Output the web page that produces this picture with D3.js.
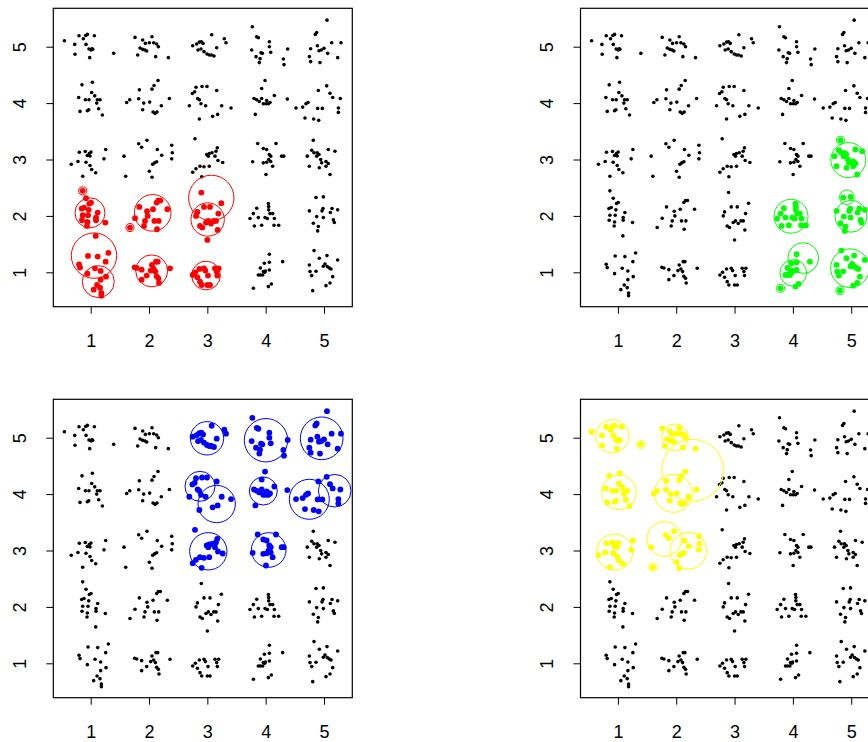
<!DOCTYPE html>
<html>
<head>
<meta charset="utf-8">
<script src="https://cdn.jsdelivr.net/npm/d3@7"></script>
<style>
  body { margin: 0; background: #fff; }
  svg { display: block; }
</style>
</head>
<body>
<script>
// Axis ticks shared by every panel
const ticks = [1, 2, 3, 4, 5];

// Jittered observations around each grid cell (column, row)
const c11 = [[0.800,1.142],[0.817,1.083],[0.954,1.290],[1.074,1.071],[1.120,1.278],[1.171,1.024],[1.257,1.189],[1.303,1.343],[0.943,0.976],[1.263,0.923],[1.171,0.870],[1.109,0.775],[1.051,0.692],[1.160,0.728],[1.183,0.633],[1.183,0.586],[1.086,1.645]];
const c12 = [[0.863,2.444],[0.920,2.314],[0.846,2.130],[0.886,2.148],[0.977,2.219],[1.006,2.237],[0.966,2.107],[0.863,2.012],[0.954,2.012],[1.120,2.059],[1.091,1.970],[1.091,1.923],[0.851,1.923],[0.943,1.893],[0.937,1.822],[1.251,1.882]];
const c13 = [[0.667,2.917],[0.782,2.965],[0.805,3.129],[0.907,3.142],[0.942,3.071],[0.976,3.106],[1.005,3.133],[0.988,3.062],[1.257,3.177],[1.228,3.012],[0.919,2.952],[0.988,2.894],[1.017,2.823],[1.086,2.764],[0.863,2.704]];
const c14 = [[0.851,4.324],[1.029,4.371],[0.794,4.100],[0.909,4.059],[0.971,4.059],[1.017,4.188],[1.069,4.129],[1.114,4.059],[1.160,4.059],[1.103,4.000],[0.817,3.853],[0.943,3.865],[0.966,3.882],[1.137,3.900],[1.200,3.788]];
const c15 = [[0.549,5.106],[0.726,5.041],[0.800,5.194],[0.874,5.141],[0.914,5.200],[0.943,5.218],[1.063,5.194],[0.920,5.041],[0.971,4.959],[1.006,4.941],[1.034,4.953],[1.023,4.965],[0.731,4.865],[0.983,4.806],[1.394,4.882]];
const c21 = [[1.754,1.089],[1.789,1.077],[1.874,1.047],[1.874,0.870],[1.960,0.941],[2.029,1.030],[2.051,1.130],[2.080,1.059],[2.109,1.012],[2.120,1.189],[2.149,1.189],[2.131,0.929],[2.160,0.893],[2.171,0.811],[2.360,1.071]];
const c22 = [[1.674,1.793],[1.760,1.959],[1.834,2.160],[1.966,2.083],[1.977,2.000],[1.931,1.911],[1.914,1.822],[2.069,2.118],[2.131,2.237],[2.160,2.272],[2.194,2.272],[2.091,1.911],[2.166,1.911],[2.137,1.763],[2.314,2.118]];
const c23 = [[1.571,3.059],[1.823,3.278],[1.874,3.218],[1.965,3.342],[2.142,3.177],[2.217,3.076],[2.131,2.959],[2.097,2.941],[2.063,2.917],[2.389,3.254],[2.399,3.119],[2.389,3.012],[1.600,2.704],[2.005,2.793],[2.051,2.686]];
const c24 = [[1.617,4.012],[1.669,4.059],[1.834,4.235],[1.823,4.076],[1.909,4.000],[2.011,4.018],[2.051,4.247],[2.086,4.312],[2.154,4.400],[1.891,3.882],[2.069,3.841],[2.103,3.818],[2.137,3.841],[2.211,3.953],[2.349,4.082]];
const c25 = [[1.760,5.165],[1.891,5.118],[1.937,5.059],[2.051,5.176],[2.006,5.071],[2.080,5.071],[2.131,5.047],[2.160,5.000],[1.846,4.976],[1.891,4.953],[1.931,4.941],[1.960,4.924],[1.806,4.853],[2.114,4.824],[2.331,4.806]];
const c31 = [[2.749,0.953],[2.794,1.000],[2.829,0.911],[2.863,1.059],[2.903,0.775],[2.874,0.834],[2.943,1.071],[2.966,1.030],[3.011,0.941],[3.000,0.775],[3.046,0.775],[3.131,1.071],[3.160,1.012],[3.194,1.071],[3.171,0.941]];
const c32 = [[2.897,2.414],[2.829,2.071],[2.806,2.000],[2.943,2.160],[3.046,2.160],[3.240,2.225],[3.189,2.041],[2.874,1.822],[2.914,1.793],[2.977,1.882],[3.017,1.911],[3.063,1.864],[3.109,1.911],[3.149,1.911],[3.177,1.751],[3.000,1.574]];
const c33 = [[2.788,3.367],[3.170,3.207],[3.148,3.147],[3.033,3.106],[3.080,3.119],[2.989,3.089],[3.016,3.059],[3.131,3.059],[3.263,2.947],[3.182,2.982],[2.749,2.775],[2.805,2.835],[2.874,2.881],[2.903,2.693],[2.942,2.871],[3.033,2.881]];
const c34 = [[2.691,3.953],[2.743,4.171],[2.783,4.200],[2.806,4.282],[2.834,4.082],[2.863,4.059],[2.891,3.988],[2.909,4.294],[2.994,4.294],[3.160,4.224],[2.971,3.953],[2.863,3.718],[3.091,3.765],[3.177,3.800],[3.246,3.953],[3.406,3.912]];
const c35 = [[2.749,5.018],[2.817,5.047],[2.863,5.082],[2.897,5.088],[2.926,5.059],[3.074,5.212],[2.840,4.941],[2.891,4.959],[2.943,4.912],[2.994,4.871],[3.034,4.853],[3.069,4.853],[3.114,4.835],[3.160,4.982],[3.291,5.141],[3.320,5.071]];
const c41 = [[4.063,1.320],[3.977,1.160],[3.909,1.077],[3.960,1.012],[3.994,1.024],[4.063,1.041],[4.063,1.178],[4.291,1.189],[3.874,0.953],[3.909,0.953],[3.949,0.953],[3.983,1.000],[4.046,0.746],[4.097,0.793],[3.789,0.716]];
const c42 = [[3.731,1.953],[3.789,2.041],[3.806,1.822],[3.846,2.136],[3.874,1.970],[3.931,1.834],[3.989,1.970],[4.046,2.219],[4.051,2.166],[4.051,2.107],[4.074,2.041],[4.029,1.953],[4.120,2.041],[4.149,1.953],[4.143,1.834],[4.223,1.834]];
const c43 = [[3.863,3.284],[3.959,3.195],[4.017,3.177],[4.177,3.284],[4.062,3.089],[4.086,3.059],[4.274,3.059],[4.309,3.059],[3.777,2.959],[3.959,2.941],[4.017,2.952],[4.052,3.000],[4.086,2.965],[4.120,2.881],[4.005,2.734]];
const c44 = [[3.989,4.400],[3.931,4.259],[3.800,4.082],[3.846,4.059],[3.891,4.029],[3.931,4.082],[3.960,3.988],[4.006,3.988],[4.046,3.988],[4.074,4.012],[4.017,4.047],[4.149,4.135],[4.371,4.071],[3.823,3.800]];
const c45 = [[3.771,5.353],[3.846,5.176],[3.874,5.159],[3.760,4.941],[3.920,4.894],[3.943,4.882],[4.063,5.088],[4.063,5.000],[4.086,4.900],[3.834,4.824],[3.903,4.788],[3.891,4.718],[4.303,4.782],[4.314,4.682],[4.377,4.959]];
const c51 = [[4.829,1.385],[4.749,1.130],[4.760,1.012],[4.789,0.941],[4.863,1.018],[4.920,1.249],[5.051,1.296],[5.017,1.148],[4.989,1.107],[5.057,1.101],[5.091,1.077],[5.120,1.059],[5.149,0.923],[5.234,1.219],[5.034,0.763],[5.103,0.811],[4.806,0.675]];
const c52 = [[4.863,2.325],[4.989,2.337],[4.749,2.089],[4.874,1.988],[4.817,1.870],[4.903,1.811],[4.891,1.734],[4.966,2.089],[4.983,2.130],[4.989,1.970],[5.109,2.059],[5.137,2.130],[5.177,1.882],[5.160,1.929],[5.234,2.107]];
const c53 = [[4.816,3.342],[4.789,3.165],[4.828,3.119],[4.885,3.119],[4.914,3.089],[4.874,3.059],[4.943,3.000],[5.073,3.177],[5.188,3.147],[4.713,3.059],[4.960,2.941],[5.034,2.965],[5.073,2.929],[5.034,2.881],[4.748,2.881],[4.919,2.853],[5.103,2.734]];
const c54 = [[4.520,3.912],[4.634,3.929],[4.691,3.988],[4.726,4.012],[4.674,3.735],[4.823,3.718],[4.909,3.694],[4.891,3.906],[4.971,3.906],[4.903,4.224],[5.046,4.306],[5.103,4.176],[5.149,4.100],[5.280,4.082],[5.246,3.912],[5.246,3.835]];
const c55 = [[5.051,5.471],[4.851,5.218],[4.874,5.253],[4.771,4.965],[4.886,5.018],[4.914,4.929],[4.954,4.941],[5.000,4.971],[5.063,4.882],[5.131,5.071],[5.291,5.071],[4.749,4.824],[4.771,4.735],[4.931,4.718],[5.234,4.806]];

// Cells highlighted in each panel
const redCells    = ["c11","c12","c21","c22","c31","c32"];
const greenCells  = ["c41","c42","c51","c52","c53"];
const blueCells   = ["c33","c34","c35","c43","c44","c45","c54","c55"];
const yellowCells = ["c13","c14","c15","c23","c24","c25"];

// Group circles per panel: centre x, centre y, radius (x units)
const redCircles = [[0.863,2.444,0.069],[0.988,2.054,0.257],[1.057,1.296,0.389],[1.130,0.835,0.274],[1.674,1.793,0.069],[2.063,2.054,0.314],[2.046,1.025,0.274],[3.068,2.319,0.389],[3.005,1.936,0.286],[2.977,0.943,0.246]];
const greenCircles = [[4.816,3.342,0.069],[4.950,2.990,0.300],[3.968,1.994,0.291],[4.926,2.331,0.126],[4.996,1.994,0.274],[4.178,1.253,0.263],[4.007,0.988,0.229],[3.789,0.716,0.069],[4.979,1.073,0.331],[4.806,0.675,0.069]];
const blueCircles = [[2.994,4.989,0.286],[4.005,4.955,0.372],[4.960,4.989,0.366],[2.874,4.138,0.257],[3.160,3.824,0.320],[3.959,4.055,0.240],[4.748,3.908,0.343],[5.183,4.060,0.280],[3.016,2.986,0.320],[4.052,3.009,0.297]];
const yellowCircles = [[0.904,5.025,0.286],[1.394,4.882,0.069],[1.979,5.007,0.229],[2.282,4.422,0.531],[1.019,4.032,0.297],[1.950,4.014,0.326],[0.945,2.973,0.309],[1.796,3.204,0.297],[2.207,2.996,0.314],[1.600,2.704,0.069]];

const cellData = {c11,c12,c13,c14,c15,c21,c22,c23,c24,c25,c31,c32,c33,c34,c35,c41,c42,c43,c44,c45,c51,c52,c53,c54,c55};

const W = 868, H = 742;
const plotW = 299, plotH = 298.4;
const panels = [
  { left: 53.3,  top: 8.3,   color: "#ff0000", cells: redCells,    circles: redCircles },
  { left: 580.5, top: 8.3,   color: "#00ff00", cells: greenCells,  circles: greenCircles },
  { left: 53.3,  top: 399.3, color: "#0000ff", cells: blueCells,   circles: blueCircles },
  { left: 580.5, top: 399.3, color: "#ffff00", cells: yellowCells, circles: yellowCircles }
];

const x = d3.scaleLinear().domain([0.359, 5.485]).range([0, plotW]);
const y = d3.scaleLinear().domain([0.390, 5.681]).range([plotH, 0]);

const svg = d3.select("body").append("svg")
  .attr("width", W).attr("height", H)
  .style("font-family", "'Liberation Sans', Arial, Helvetica, sans-serif");

panels.forEach(p => {
  const g = svg.append("g").attr("transform", `translate(${p.left},${p.top})`);

  // bottom axis
  const ax = g.append("g").attr("transform", `translate(0,${plotH})`)
    .call(d3.axisBottom(x).tickValues(ticks).tickFormat(d3.format("d"))
      .tickSize(7).tickSizeOuter(0).tickPadding(21));
  ax.select(".domain").remove();
  ax.selectAll("line").attr("stroke", "#000");
  ax.selectAll("text").attr("font-size", 18).attr("fill", "#000")
    .style("font-family", "'Liberation Sans', Arial, sans-serif");

  // left axis with rotated labels
  const ay = g.append("g")
    .call(d3.axisLeft(y).tickValues(ticks).tickFormat(d3.format("d"))
      .tickSize(7).tickSizeOuter(0));
  ay.select(".domain").remove();
  ay.selectAll("line").attr("stroke", "#000");
  ay.selectAll("text")
    .attr("font-size", 18).attr("fill", "#000")
    .style("font-family", "'Liberation Sans', Arial, sans-serif")
    .attr("transform", "rotate(-90)")
    .attr("x", 0).attr("y", -33.5).attr("dy", "0.36em")
    .attr("text-anchor", "middle");

  // frame
  g.append("rect").attr("x", 0).attr("y", 0).attr("width", plotW).attr("height", plotH)
    .attr("fill", "none").attr("stroke", "#000").attr("stroke-width", 1.2);

  const plain = [], marked = [];
  Object.keys(cellData).forEach(k => {
    (p.cells.includes(k) ? marked : plain).push(...cellData[k]);
  });

  g.append("g").selectAll("circle").data(plain).join("circle")
    .attr("cx", d => x(d[0])).attr("cy", d => y(d[1])).attr("r", 1.8).attr("fill", "#000");

  g.append("g").selectAll("circle").data(marked).join("circle")
    .attr("cx", d => x(d[0])).attr("cy", d => y(d[1])).attr("r", 2.9).attr("fill", p.color);

  g.append("g").selectAll("circle").data(p.circles).join("circle")
    .attr("cx", d => x(d[0])).attr("cy", d => y(d[1]))
    .attr("r", d => x(d[0] + d[2]) - x(d[0]))
    .attr("fill", "none").attr("stroke", p.color).attr("stroke-width", 1);
});
</script>
</body>
</html>
